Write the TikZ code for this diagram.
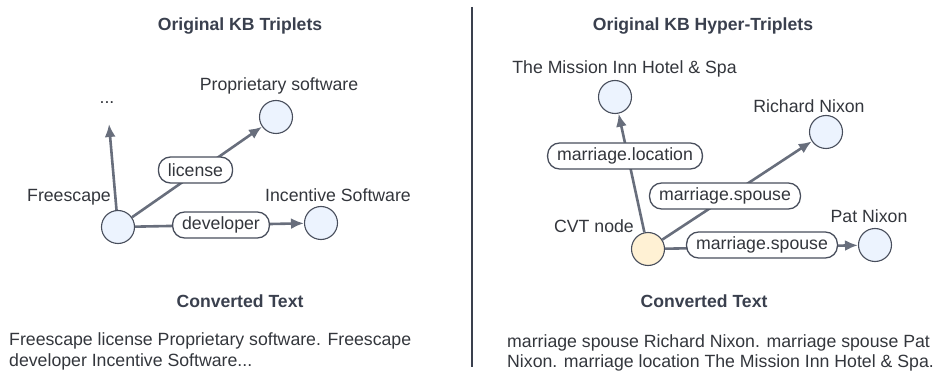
\documentclass[tikz,border=0pt]{standalone}
\usepackage{fontspec}
\setmainfont{Liberation Sans}
\usetikzlibrary{arrows.meta}
\definecolor{edgec}{RGB}{104,110,124}
\definecolor{borderc}{RGB}{72,78,92}
\definecolor{bluefill}{RGB}{236,243,254}
\definecolor{yellowfill}{RGB}{255,241,212}
\definecolor{txt}{RGB}{51,54,60}
\definecolor{titlec}{RGB}{58,64,78}
\tikzset{
  ent/.style={circle, draw=borderc, line width=1.1pt, fill=bluefill, minimum size=33pt, inner sep=0pt},
  cvt/.style={ent, fill=yellowfill},
  rel/.style={draw=borderc, line width=1.3pt, fill=white, rounded corners=12pt, minimum height=26pt, inner xsep=9.5pt, inner ysep=0pt, text=txt, font=\fontsize{17.7}{22}\selectfont},
  lbl/.style={text=txt, font=\fontsize{17.7}{22}\selectfont, inner sep=0pt, anchor=base},
  ttl/.style={text=titlec, font=\bfseries\fontsize{17.6}{21}\selectfont, inner sep=0pt, anchor=base},
  para/.style={text=txt, font=\fontsize{17.7}{22}\selectfont, inner sep=0pt, anchor=base west},
  edge/.style={draw=edgec, line width=2.6pt, -{Latex[length=13pt,width=11pt]}},
}
\begin{document}
\begin{tikzpicture}[x=1pt,y=-1pt]
\useasboundingbox (0,0) rectangle (939,371);
% divider
\draw[draw=titlec, line width=1.4pt] (472,7) -- (472,367);
% titles
\node[ttl] (t1) at (240,31) {Original KB Triplets};
\node[ttl] (t2) at (703,31) {Original KB Hyper-Triplets};
\node[ttl] (c1) at (240,307) {Converted Text};
\node[ttl] (c2) at (704,307) {Converted Text};
% left graph
\node[ent] (fs) at (118,227) {};
\node[ent] (prop) at (276,117) {};
\node[ent] (inc) at (321,223) {};
\coordinate (dotend) at (109,124);
\node[lbl] (dots) at (107,104) {...};
\node[lbl] (lfs) at (69,202) {Freescape};
\node[lbl] (lprop) at (279,91) {Proprietary software};
\node[lbl] (linc) at (338,202) {Incentive Software};
\draw[edge] (fs) -- (dotend);
\draw[edge] (fs) -- (prop);
\draw[edge] (fs) -- (inc);
\node[rel] (r1) at (195.5,170) {license};
\node[rel] (r2) at (221,225) {developer};
% right graph
\node[cvt] (cv) at (648,249) {};
\node[ent] (mis) at (615,97) {};
\node[ent] (rn) at (826,132) {};
\node[ent] (pn) at (875,245) {};
\node[lbl] (lmis) at (624.5,73.5) {The Mission Inn Hotel \& Spa};
\node[lbl] (lrn) at (809,112.5) {Richard Nixon};
\node[lbl] (lpn) at (869,222.5) {Pat Nixon};
\node[lbl] (lcv) at (594,232.5) {CVT node};
\draw[edge] (cv) -- (mis);
\draw[edge] (cv) -- (rn);
\draw[edge] (cv) -- (pn);
\node[rel] (r3) at (625,156) {marriage.location};
\node[rel] (r4) at (725,196) {marriage.spouse};
\node[rel] (r5) at (762,245) {marriage.spouse};
% converted texts
\node[para] (p1a) at (9,345) {Freescape license Proprietary software. Freescape};
\node[para] (p1b) at (9,366.5) {developer Incentive Software...};
\node[para] (p2a) at (507,347) {marriage spouse Richard Nixon. marriage spouse Pat};
\node[para] (p2b) at (507,367.5) {Nixon. marriage location The Mission Inn Hotel \& Spa.};
\end{tikzpicture}
\end{document}
